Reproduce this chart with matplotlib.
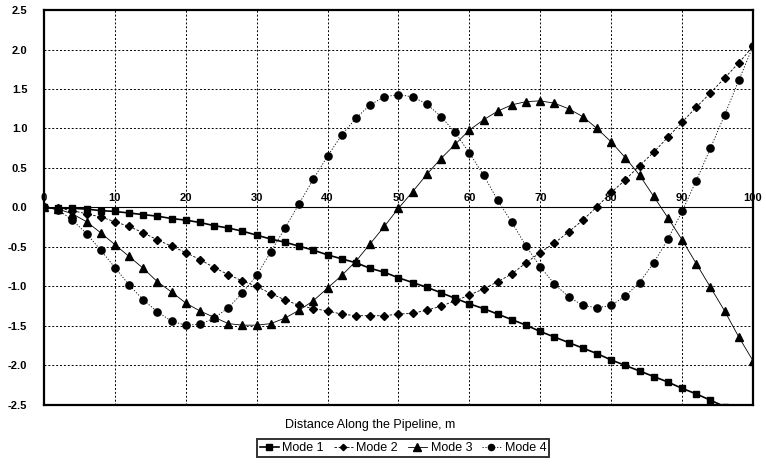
import matplotlib
matplotlib.use("Agg")
import matplotlib.pyplot as plt
import numpy as np

plt.rcParams['font.family'] = ['Liberation Sans', 'DejaVu Sans']
plt.rcParams['axes.unicode_minus'] = False

# 数据：沿管线距离 (m)，每 2 m 一个点
distance = np.arange(0, 101, 2)

mode1 = [0.00, -0.01, -0.01, -0.02, -0.04, -0.05, -0.07, -0.09, -0.11, -0.14,
         -0.16, -0.19, -0.23, -0.26, -0.30, -0.35, -0.40, -0.44, -0.49, -0.54,
         -0.60, -0.65, -0.70, -0.77, -0.82, -0.89, -0.95, -1.01, -1.08, -1.15,
         -1.22, -1.28, -1.35, -1.42, -1.49, -1.57, -1.64, -1.71, -1.78, -1.85,
         -1.93, -2.00, -2.07, -2.14, -2.21, -2.29, -2.36, -2.44, -2.52, -2.60,
         -2.68]

mode2 = [0.00, -0.01, -0.04, -0.08, -0.12, -0.18, -0.24, -0.32, -0.41, -0.49,
         -0.57, -0.66, -0.76, -0.85, -0.93, -1.00, -1.09, -1.17, -1.24, -1.28,
         -1.31, -1.35, -1.37, -1.37, -1.37, -1.35, -1.34, -1.30, -1.25, -1.18,
         -1.11, -1.03, -0.94, -0.84, -0.70, -0.57, -0.45, -0.31, -0.16, 0.01,
         0.19, 0.35, 0.53, 0.70, 0.89, 1.08, 1.27, 1.45, 1.64, 1.83,
         2.04]

mode3 = [0.00, -0.02, -0.08, -0.18, -0.32, -0.47, -0.62, -0.77, -0.94, -1.07,
         -1.21, -1.31, -1.39, -1.47, -1.49, -1.49, -1.47, -1.40, -1.30, -1.18,
         -1.02, -0.86, -0.68, -0.46, -0.24, -0.01, 0.20, 0.42, 0.62, 0.80,
         0.98, 1.11, 1.22, 1.30, 1.34, 1.35, 1.32, 1.25, 1.15, 1.00,
         0.83, 0.63, 0.41, 0.14, -0.13, -0.41, -0.71, -1.01, -1.31, -1.64,
         -1.94]

mode4 = [0.00, -0.03, -0.16, -0.33, -0.54, -0.76, -0.98, -1.17, -1.32, -1.44,
         -1.49, -1.48, -1.40, -1.27, -1.08, -0.86, -0.56, -0.26, 0.05, 0.36,
         0.65, 0.92, 1.13, 1.30, 1.40, 1.43, 1.40, 1.31, 1.15, 0.95,
         0.69, 0.41, 0.09, -0.19, -0.49, -0.75, -0.97, -1.13, -1.24, -1.27,
         -1.24, -1.12, -0.95, -0.70, -0.40, -0.05, 0.34, 0.75, 1.17, 1.61,
         2.04]

x_ticks = np.arange(0, 101, 10)
y_ticks = np.arange(-2.5, 2.51, 0.5)

fig = plt.figure(figsize=(7.66, 4.66), dpi=100)
ax = fig.add_axes([0.0574, 0.131, 0.9256, 0.8475])

ax.plot(distance, mode1, color='black', lw=1.2, ls='-',
        marker='s', ms=5.0, label='Mode 1', zorder=3)
ax.plot(distance, mode2, color='black', lw=0.6, ls=(0, (3, 2)),
        marker='D', ms=3.8, label='Mode 2', zorder=4)
ax.plot(distance, mode3, color='black', lw=0.6, ls='-',
        marker='^', ms=6.0, label='Mode 3', zorder=5)
ax.plot(distance, mode4, color='black', lw=0.6, ls=(0, (1.5, 2)),
        marker='o', ms=5.2, label='Mode 4', zorder=6)

ax.set_xlim(0, 100)
ax.set_ylim(-2.5, 2.5)
ax.set_xticks(x_ticks)
ax.set_yticks(y_ticks)
ax.set_yticklabels([f"{v:.1f}" for v in y_ticks], fontsize=8, fontweight='bold')
ax.tick_params(axis='x', length=0, labelbottom=False)
ax.tick_params(axis='y', length=0, pad=12)
ax.grid(True, color='black', ls=(0, (2, 2)), lw=0.7)

for sp in ax.spines.values():
    sp.set_linewidth(1.6)
    sp.set_color('black')

# x 轴画在 y=0 处
sec = ax.secondary_xaxis(0.5)
sec.set_xticks(x_ticks)
sec.set_xticklabels([str(v) for v in x_ticks], fontsize=8, fontweight='bold')
sec.tick_params(length=0, pad=3)
sec.spines['bottom'].set_linewidth(1.0)
sec.spines['bottom'].set_color('#222222')

fig.text(370 / 766, 1 - 425 / 466, 'Distance Along the Pipeline, m',
         ha='center', va='center', fontsize=9)

leg = fig.legend(loc='center', bbox_to_anchor=(403 / 766, 1 - 448 / 466), ncol=4,
                 fontsize=9, frameon=True, fancybox=False, handlelength=1.5,
                 handletextpad=0.3, columnspacing=0.8, borderpad=0.25,
                 markerscale=0.85)
leg.get_frame().set_edgecolor('black')
leg.get_frame().set_linewidth(1.4)

fig.savefig('out.png', dpi=100)
